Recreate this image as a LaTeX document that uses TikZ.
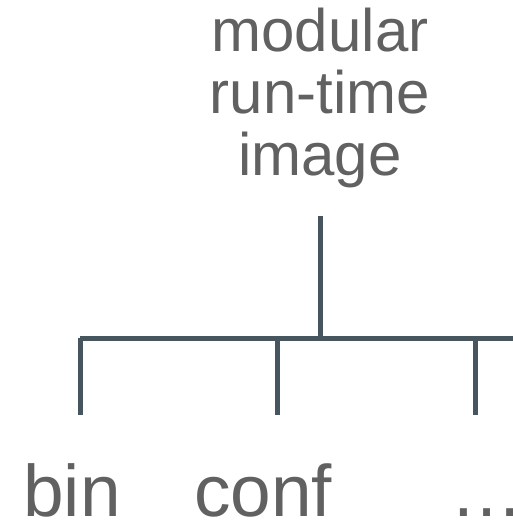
\documentclass[tikz,border=0pt]{standalone}
\usepackage{fontspec}
\setmainfont{Liberation Sans}
\definecolor{treeline}{HTML}{47555E}
\definecolor{labelgray}{HTML}{616161}
\tikzset{
    branch/.style={line width=5pt, draw=treeline, line join=miter},
    rootlabel/.style={text=labelgray, font=\fontsize{60}{62}\selectfont, align=center, anchor=base, inner sep=0pt},
    leaflabel/.style={text=labelgray, font=\fontsize{73}{73}\selectfont, anchor=base, inner sep=0pt}
}
\begin{document}
\begin{tikzpicture}[x=1pt,y=-1pt]
    \useasboundingbox (0,0) rectangle (512,521);
    \def\bary{338}
    \def\dropy{415}
    \def\leafy{516}

    % Root and stem
    \node[rootlabel] (image) at (320,176) {modular\\run-time\\image};
    \coordinate (stem) at (320,216);
    \coordinate (hub) at (320,\bary);
    \draw[branch] (stem) -- (hub);

    % Bar
    \coordinate (barleft) at (80,\bary);
    \coordinate (barright) at (530,\bary);
    \draw[branch] (barleft) -- (barright);

    % Drops and leaves
    \foreach \x/\name in {80/bin,277/conf,475/more} {
        \coordinate (\name-top) at (\x,\bary);
        \coordinate (\name-end) at (\x,\dropy);
        \draw[branch] (\name-top) -- (\name-end);
    }
    \node[leaflabel] (bin) at (72,\leafy) {bin};
    \node[leaflabel] (conf) at (263,\leafy) {conf};
    \node[leaflabel, anchor=base west] (more) at (450,\leafy) {…};

\end{tikzpicture}
\end{document}
